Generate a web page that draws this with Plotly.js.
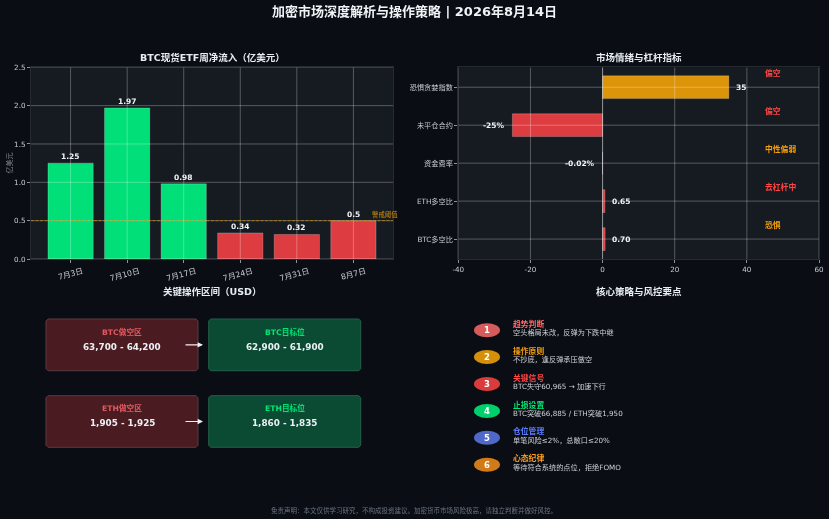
<!DOCTYPE html>
<html><head><meta charset="utf-8">
<script src="https://cdn.plot.ly/plotly-3.0.1.min.js"></script>
<style>html,body{margin:0;padding:0;background:#0a0e14}#c{width:829px;height:519px;filter:blur(0.3px)}</style></head>
<body><div id="c"></div>
<script>
const W=829,H=519;
const FONT='"DejaVu Sans","Noto Sans CJK SC",sans-serif';
// ---- data
const etfWeeks=['7月3日','7月10日','7月17日','7月24日','7月31日','8月7日'];
const etfValues=[1.25,1.97,0.98,0.34,0.32,0.5];
const etfColors=['#00df78','#00df78','#00df78','#dd3d40','#dd3d40','#dd3d40'];
const etfThreshold=0.5;
const etfTicks=[0,0.5,1,1.5,2,2.5];
const sentLabels=['BTC多空比','ETH多空比','资金费率','未平仓合约','恐惧贪婪指数'];
const sentValues=[0.70,0.65,-0.02,-25,35];
const sentText=['0.70','0.65','-0.02%','-25%','35'];
const sentColors=['#dd3d40','#dd3d40','#dd3d40','#dd3d40','#dc9408'];
const sentStatus=['恐惧','去杠杆中','中性偏弱','偏空','偏空'];
const sentStatusColors=['#f59e0b','#ff4444','#f59e0b','#ff4444','#ff4444'];
const sentTicks=[-40,-20,0,20,40,60];
const zoneShort=[['BTC做空区','63,700 - 64,200'],['ETH做空区','1,905 - 1,925']];
const zoneTarget=[['BTC目标位','62,900 - 61,900'],['ETH目标位','1,860 - 1,835']];
const stratTitles=['趋势判断','操作原则','关键信号','止损设置','仓位管理','心态纪律'];
const stratDesc=['空头格局未改，反弹为下跌中继','不抄底，逢反弹承压做空','BTC失守60,965 → 加速下行','BTC突破66,885 / ETH突破1,950','单笔风险≤2%，总敞口≤20%','等待符合系统的点位，拒绝FOMO'];
const stratColors=['#d65b5b','#d4900a','#d83c3c','#00d06c','#5068c8','#d07a18'];
const stratTitleColors=['#ff6b6b','#f59e0b','#ff4444','#00e676','#5b7cff','#ff9f1c'];
// ---- helpers: pixels to paper fractions
const px=x=>x/W, py=y=>1-y/H;
const shapes=[],ann=[];
function txt(x,y,text,size,color,opt={}){
  ann.push(Object.assign({xref:'paper',yref:'paper',x:px(x),y:py(y),text:text,showarrow:false,
    font:{family:FONT,size:size,color:color},xanchor:'center',yanchor:'middle'},opt));
}
function bold(s){return '<b>'+s+'</b>';}
function card(x0,y0,x1,y1,fill,line){
  const r=2;
  const X=v=>px(v).toFixed(5),Y=v=>py(v).toFixed(5);
  shapes.push({type:'path',xref:'paper',yref:'paper',layer:'below',fillcolor:fill,line:{color:line,width:1},
   path:`M${X(x0+r)},${Y(y0)}L${X(x1-r)},${Y(y0)}L${X(x1)},${Y(y0+r)}L${X(x1)},${Y(y1-r)}L${X(x1-r)},${Y(y1)}L${X(x0+r)},${Y(y1)}L${X(x0)},${Y(y1-r)}L${X(x0)},${Y(y0+r)}Z`});
}
// grid above bars, driven from the tick arrays
const GRID='rgba(255,255,255,0.28)';
etfTicks.forEach(v=>shapes.push({type:'line',xref:'x',yref:'y',x0:-0.7,x1:5.7,y0:v,y1:v,layer:'above',line:{color:GRID,width:1}}));
etfWeeks.forEach((c,i)=>shapes.push({type:'line',xref:'x',yref:'y',x0:i,x1:i,y0:0,y1:2.5,layer:'above',line:{color:GRID,width:1}}));
sentTicks.forEach(v=>shapes.push({type:'line',xref:'x2',yref:'y2',x0:v,x1:v,y0:-0.525,y1:4.525,layer:'above',line:{color:GRID,width:1}}));
sentLabels.forEach((c,i)=>shapes.push({type:'line',xref:'x2',yref:'y2',x0:-40,x1:60,y0:i,y1:i,layer:'above',line:{color:GRID,width:1}}));
shapes.push({type:'line',xref:'x',yref:'y',x0:-0.7,x1:5.7,y0:etfThreshold,y1:etfThreshold,layer:'above',line:{color:'rgba(212,144,10,0.75)',width:0.9,dash:'3px,1.5px'}});
shapes.push({type:'line',xref:'x2',yref:'y2',x0:0,x1:0,y0:-0.525,y1:4.525,layer:'above',line:{color:'rgba(255,255,255,0.35)',width:1}});
// ---- text
txt(414.5,12,bold('加密市场深度解析与操作策略 | 2026年8月14日'),13,'#f0f3f6');
txt(212,57,bold('BTC现货ETF周净流入（亿美元）'),9.5,'#e6edf3');
txt(638.5,57,bold('市场情绪与杠杆指标'),9.5,'#e6edf3');
txt(212,291,bold('关键操作区间（USD）'),9.5,'#e6edf3');
txt(638.5,291,bold('核心策略与风控要点'),9.5,'#e6edf3');
txt(414,510,'免责声明：本文仅供学习研究，不构成投资建议。加密货币市场风险极高，请独立判断并做好风控。',6.5,'#6b7280');
txt(8.5,163,'亿美元',7,'#868b92',{textangle:-90});
txt(384.5,214.5,'警戒阈值',6.4,'#d4900a');
// bar labels
etfValues.forEach((v,i)=>ann.push({xref:'x',yref:'y',x:i,y:v,yshift:6.5,text:bold(String(v)),showarrow:false,
  font:{family:FONT,size:7.5,color:'#f0f3f6'},xanchor:'center',yanchor:'middle'}));
sentValues.forEach((v,i)=>ann.push({xref:'x2',yref:'y2',x:v<0?v-2:v+2,y:i,text:bold(sentText[i]),showarrow:false,
  font:{family:FONT,size:7.5,color:'#f0f3f6'},xanchor:v<0?'right':'left',yanchor:'middle',xshift:v<0?2:-2}));
sentStatus.forEach((s,i)=>ann.push({xref:'x2',yref:'y2',x:45,y:i+0.37,text:bold(s),showarrow:false,
  font:{family:FONT,size:7.8,color:sentStatusColors[i]},xanchor:'left',yanchor:'middle',xshift:-2}));
// cards
const rows=[[319,370.7],[395.7,447.3]];
rows.forEach((r,i)=>{
  const mid=(r[0]+r[1])/2;
  card(46,r[0],198,r[1],'#4a1c22','#5c3a3f');
  card(208.7,r[0],360.7,r[1],'#0b4a33','#24604a');
  txt(122,r[0]+12.7,bold(zoneShort[i][0]),7.7,'#e05a5f');
  txt(122,r[0]+27.7,bold(zoneShort[i][1]),8.8,'#ecf0f4');
  txt(284.7,r[0]+12.7,bold(zoneTarget[i][0]),7.7,'#00e676');
  txt(284.7,r[0]+27.7,bold(zoneTarget[i][1]),8.8,'#ecf0f4');
  ann.push({xref:'paper',yref:'paper',x:px(203),y:py(mid),ax:-19,ay:0,axref:'pixel',ayref:'pixel',text:'',showarrow:true,
    arrowhead:2,arrowsize:0.9,arrowwidth:1.2,arrowcolor:'#f0f0f0'});
});
// strategy list
const rowsY=[330.3,357,384,411,437.7,464.7];
stratTitles.forEach((t,i)=>{
  const y=rowsY[i];
  shapes.push({type:'circle',xref:'paper',yref:'paper',x0:px(474),x1:px(500),y0:py(y+7),y1:py(y-7),fillcolor:stratColors[i],line:{width:0},layer:'below'});
  txt(487,y,bold(String(i+1)),8.5,'#ffffff');
  txt(512.7,y-6.5,bold(t),7.8,stratTitleColors[i],{xanchor:'left',xshift:-2});
  txt(512.7,y+2.5,stratDesc[i],7.2,'#cdd0d4',{xanchor:'left',xshift:-2});
});
const traces=[
 {type:'bar',x:etfWeeks.map((c,i)=>i),y:etfValues,width:0.8,xaxis:'x',yaxis:'y',hoverinfo:'skip',
  marker:{color:etfColors,line:{color:'rgba(255,255,255,0.22)',width:1}}},
 {type:'bar',orientation:'h',x:sentValues,y:sentLabels.map((c,i)=>i),width:0.6,xaxis:'x2',yaxis:'y2',hoverinfo:'skip',
  marker:{color:sentColors,line:{color:'rgba(255,255,255,0.22)',width:1}}}
];
const axBase={showgrid:false,zeroline:false,ticks:'outside',ticklen:3,tickwidth:1,tickcolor:'#8b949e',
  tickfont:{family:FONT,size:7.2,color:'#c8cbcf'},showline:true,linecolor:'#262b32',linewidth:1,mirror:true,fixedrange:true};
const layout={width:W,height:H,margin:{l:0,r:0,t:0,b:0},paper_bgcolor:'#0a0e14',plot_bgcolor:'#161b22',showlegend:false,
 xaxis:Object.assign({},axBase,{domain:[px(31),px(393)],anchor:'y',range:[-0.7,5.7],tickmode:'array',tickvals:etfWeeks.map((c,i)=>i),ticktext:etfWeeks,tickangle:-15,ticklabelshift:12,ticklabelstandoff:1,tickfont:{family:FONT,size:7.8,color:'#c8cbcf'}}),
 yaxis:Object.assign({},axBase,{domain:[py(259),py(67.3)],anchor:'x',range:[0,2.5],tickmode:'array',tickvals:etfTicks,ticktext:etfTicks.map(v=>v.toFixed(1))}),
 xaxis2:Object.assign({},axBase,{domain:[px(458.3),px(819)],anchor:'y2',range:[-40,60],tickmode:'array',tickvals:sentTicks,ticktext:sentTicks.map(String)}),
 yaxis2:Object.assign({},axBase,{domain:[py(259),py(67.3)],anchor:'x2',range:[-0.525,4.525],tickmode:'array',tickvals:sentLabels.map((c,i)=>i),ticktext:sentLabels}),
 shapes:shapes,annotations:ann,bargap:0};
Plotly.newPlot('c',traces,layout,{displayModeBar:false,staticPlot:true});
</script></body></html>
